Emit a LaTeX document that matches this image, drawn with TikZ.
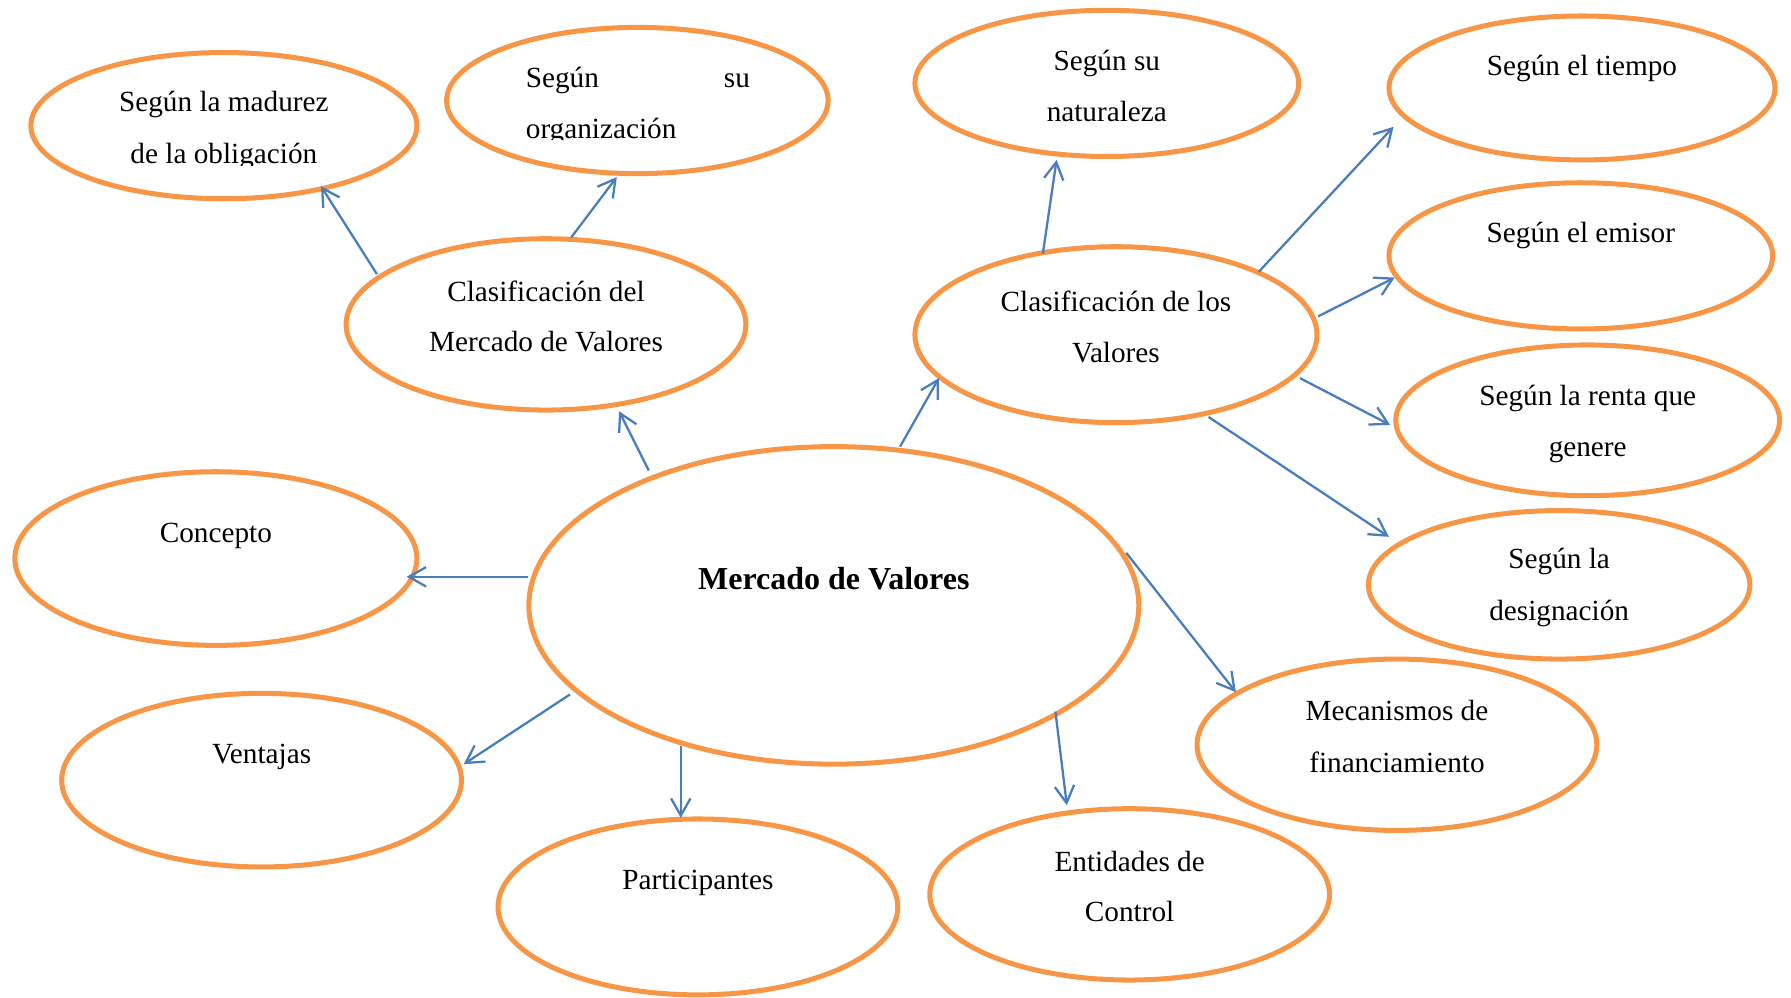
\documentclass[tikz,border=0pt]{standalone}
\usepackage{fontspec}
\setmainfont{Liberation Serif}
\usetikzlibrary{shapes.geometric,arrows.meta}
\definecolor{ovalorange}{RGB}{247,150,70}
\definecolor{linkblue}{RGB}{74,126,187}
\tikzset{
  oval/.style={ellipse, draw=ovalorange, line width=2.2pt, inner sep=0pt, outer sep=0pt},
  ovalsize/.style 2 args={minimum width=#1pt, minimum height=#2pt},
  lbl/.style={anchor=base, inner sep=0pt, font=\fontsize{12.8}{15}\selectfont},
  title/.style={anchor=base, inner sep=0pt, font=\fontsize{14}{17}\selectfont\bfseries},
  link/.style={draw=linkblue, line width=1pt, -{Straight Barb[length=7.5pt,width=8.5pt]}},
}
\begin{document}
\begin{tikzpicture}[x=0.5pt,y=-0.5pt]
\useasboundingbox (0,0) rectangle (1568,873);

% ovals
\node[oval, ovalsize={267}{139}] (ctr)       at (730,530)  {};
\node[oval, ovalsize={175}{75}]  (clasMerc)  at (478,284)  {};
\node[oval, ovalsize={176}{77}]  (clasVal)   at (977,293)  {};
\node[oval, ovalsize={169}{64}]  (madurez)   at (196,110)  {};
\node[oval, ovalsize={167}{64}]  (organiz)   at (558,88)   {};
\node[oval, ovalsize={168}{64}]  (natur)     at (969,73)   {};
\node[oval, ovalsize={169}{63}]  (tiempo)    at (1385,77)  {};
\node[oval, ovalsize={168}{64}]  (emisor)    at (1384,224) {};
\node[oval, ovalsize={168}{66}]  (renta)     at (1390,368) {};
\node[oval, ovalsize={167}{65}]  (design)    at (1365,512) {};
\node[oval, ovalsize={176}{76}]  (concepto)  at (189,489)  {};
\node[oval, ovalsize={175}{76}]  (ventajas)  at (229,683)  {};
\node[oval, ovalsize={175}{77}]  (particip)  at (611,794)  {};
\node[oval, ovalsize={175}{75}]  (entidades) at (989,783)  {};
\node[oval, ovalsize={175}{75}]  (mecan)     at (1223,652) {};

% connectors from the central oval
\draw[link] ([shift={(-268,-25)}]ctr.center) -- ([shift={(167,16)}]concepto.center);
\draw[link] ([shift={(-231,78)}]ctr.center) -- ([shift={(177,-14)}]ventajas.center);
\draw[link] ([shift={(-134,123)}]ctr.center) -- ([shift={(-15,-78)}]particip.center);
\draw[link] ([shift={(194,93)}]ctr.center) -- ([shift={(-55,-78)}]entidades.center);
\draw[link] ([shift={(256,-46)}]ctr.center) -- ([shift={(-141,-46)}]mecan.center);
\draw[link] ([shift={(-162,-118)}]ctr.center) -- ([shift={(64,76)}]clasMerc.center);
\draw[link] ([shift={(58,-139)}]ctr.center) -- ([shift={(-155,38)}]clasVal.center);

% connectors from the market classification
\draw[link] ([shift={(-148,-44)}]clasMerc.center) -- ([shift={(85,53)}]madurez.center);
\draw[link] ([shift={(22,-76)}]clasMerc.center) -- ([shift={(-18,67)}]organiz.center);

% connectors from the securities classification
\draw[link] ([shift={(-64,-71)}]clasVal.center) -- ([shift={(-44,67)}]natur.center);
\draw[link] ([shift={(125,-55)}]clasVal.center) -- ([shift={(-165,34)}]tiempo.center);
\draw[link] ([shift={(177,-16)}]clasVal.center) -- ([shift={(-163,19)}]emisor.center);
\draw[link] ([shift={(161,38)}]clasVal.center) -- ([shift={(-173,4)}]renta.center);
\draw[link] ([shift={(81,72)}]clasVal.center) -- ([shift={(-149,-42)}]design.center);

% texts
\node[title] (tCtr) at (730,516) {Mercado de Valores};

\node[lbl] (tMerc1) at (478,264) {Clasificación del};
\node[lbl] (tMerc2) at (478,308) {Mercado de Valores};

\node[lbl] (tVal1) at (977,273) {Clasificación de los};
\node[lbl] (tVal2) at (977,317) {Valores};

\begin{scope}
  \clip (40,60) rectangle (360,145);
  \node[lbl] (tMad1) at (196,98)  {Según la madurez};
  \node[lbl] (tMad2) at (196,143) {de la obligación};
\end{scope}

\begin{scope}
  \clip (420,40) rectangle (700,122.5);
  \node[lbl, anchor=base west] (tOrg1) at (460,77)  {Según};
  \node[lbl, anchor=base east] (tOrg2) at (657,77)  {su};
  \node[lbl, anchor=base west] (tOrg3) at (460,121) {organización};
\end{scope}

\node[lbl] (tNat1) at (969,62)  {Según su};
\node[lbl] (tNat2) at (969,106) {naturaleza};

\node[lbl] (tTie) at (1385,66)  {Según el tiempo};
\node[lbl] (tEmi) at (1384,212) {Según el emisor};

\node[lbl] (tRen1) at (1390,355) {Según la renta que};
\node[lbl] (tRen2) at (1390,400) {genere};

\node[lbl] (tDes1) at (1365,498) {Según la};
\node[lbl] (tDes2) at (1365,543) {designación};

\node[lbl] (tCon) at (189,475)  {Concepto};
\node[lbl] (tVen) at (229,668)  {Ventajas};
\node[lbl] (tPar) at (611,779)  {Participantes};

\node[lbl] (tEnt1) at (989,763) {Entidades de};
\node[lbl] (tEnt2) at (989,807) {Control};

\node[lbl] (tMec1) at (1223,631) {Mecanismos de};
\node[lbl] (tMec2) at (1223,676) {financiamiento};
\end{tikzpicture}
\end{document}
